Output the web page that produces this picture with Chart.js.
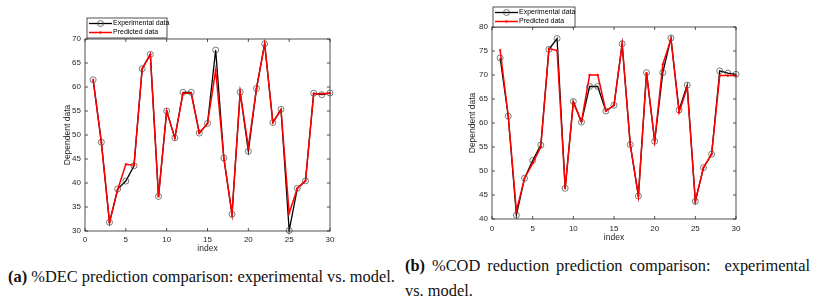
<!DOCTYPE html>
<html>
<head>
<meta charset="utf-8">
<script src="https://cdn.jsdelivr.net/npm/chart.js@4.4.1/dist/chart.umd.min.js"></script>
<style>
  body { margin: 0; background: #fff; width: 818px; height: 305px; position: relative; overflow: hidden; }
  .wrap { position: absolute; }
  #wrapA { left: 0; top: 0; width: 340px; height: 254px; }
  #wrapB { left: 440px; top: 0; width: 310px; height: 243px; }
  .cap { position: absolute; font-family: "Liberation Serif", "Times New Roman", serif; font-size: 16.4px;
         line-height: 18px; color: #111; white-space: nowrap; }
  .just { text-align: justify; text-align-last: justify; }
</style>
</head>
<body>
<div class="wrap" id="wrapA"><canvas id="decChart"></canvas></div>
<div class="wrap" id="wrapB"><canvas id="codChart"></canvas></div>

<div class="cap" style="left:8px; top:268px;"><b>(a)</b> %DEC prediction comparison: experimental vs. model.</div>
<div class="cap just" style="left:405px; top:257px; width:405px;"><b>(b)</b> %COD reduction prediction comparison:&nbsp; experimental</div>
<div class="cap" style="left:405px; top:282px;">vs. model.</div>

<script>
const index = [1, 2, 3, 4, 5, 6, 7, 8, 9, 10, 11, 12, 13, 14, 15,
               16, 17, 18, 19, 20, 21, 22, 23, 24, 25, 26, 27, 28, 29, 30];

// (a) %DEC
const decExperimental = [61.5, 48.5, 31.8, 38.75, 40.4, 43.6, 63.8, 66.8, 37.2, 55.0,
                         49.4, 58.9, 58.9, 50.4, 52.4, 67.7, 45.2, 33.5, 58.9, 46.6,
                         59.7, 69.0, 52.6, 55.35, 30.1, 38.9, 40.45, 58.7, 58.4, 58.75];
const decPredicted    = [61.5, 48.5, 31.8, 38.6, 43.9, 43.7, 63.8, 66.8, 37.2, 55.0,
                         49.4, 58.7, 58.7, 50.4, 52.4, 63.5, 45.2, 33.5, 58.9, 47.5,
                         59.7, 69.0, 52.6, 55.2, 33.7, 38.9, 40.45, 58.6, 58.6, 58.7];

// (b) %COD reduction
const codExperimental = [73.55, 61.4, 40.8, 48.5, 52.2, 55.4, 75.35, 77.6, 46.4, 64.5,
                         60.2, 67.6, 67.6, 62.5, 63.7, 76.5, 55.5, 44.8, 70.5, 56.2,
                         70.5, 77.7, 62.7, 67.9, 43.7, 50.7, 53.5, 70.85, 70.4, 70.15];
const codPredicted    = [75.2, 61.4, 41.7, 48.5, 51.6, 55.0, 75.5, 75.1, 46.4, 64.3,
                         60.3, 70.0, 70.0, 62.5, 63.7, 76.4, 55.5, 44.8, 70.4, 56.3,
                         72.2, 77.5, 62.2, 67.4, 43.7, 50.7, 53.5, 69.9, 69.9, 69.9];

const xTicks = [0, 5, 10, 15, 20, 25, 30];
const decTicks = [30, 35, 40, 45, 50, 55, 60, 65, 70];
const codTicks = [40, 45, 50, 55, 60, 65, 70, 75, 80];

const INK = '#262626';
const SANS = '"Liberation Sans", Arial, Helvetica, sans-serif';

// MATLAB style box with inward ticks on all four sides
const frameTicks = {
    id: 'frameTicks',
    afterDatasetsDraw(chart) {
        const { ctx, chartArea: a, scales: { x, y } } = chart;
        ctx.save();
        ctx.strokeStyle = INK;
        ctx.lineWidth = 0.8;
        ctx.strokeRect(a.left, a.top, a.right - a.left, a.bottom - a.top);
        ctx.beginPath();
        x.ticks.forEach(t => {
            const px = x.getPixelForValue(t.value);
            ctx.moveTo(px, a.bottom); ctx.lineTo(px, a.bottom - 3);
            ctx.moveTo(px, a.top); ctx.lineTo(px, a.top + 3);
        });
        y.ticks.forEach(t => {
            const py = y.getPixelForValue(t.value);
            ctx.moveTo(a.left, py); ctx.lineTo(a.left + 3, py);
            ctx.moveTo(a.right, py); ctx.lineTo(a.right - 3, py);
        });
        ctx.stroke();
        ctx.restore();
    }
};

// boxed legend sitting over the top-left corner of the axes
const boxLegend = {
    id: 'boxLegend',
    afterDraw(chart, args, opts) {
        const { ctx } = chart;
        const { left, top, width, height } = opts;
        ctx.save();
        ctx.fillStyle = '#fff';
        ctx.fillRect(left, top, width, height);
        ctx.strokeStyle = INK;
        ctx.lineWidth = 0.8;
        ctx.strokeRect(left, top, width, height);
        ctx.font = '7px ' + SANS;
        ctx.textBaseline = 'middle';
        const rowH = height / 2;
        chart.data.datasets.forEach((ds, i) => {
            const cy = top + rowH * (i + 0.5) + (i === 0 ? 0.5 : -0.5);
            ctx.strokeStyle = ds.borderColor;
            ctx.lineWidth = ds.borderWidth;
            ctx.beginPath();
            ctx.moveTo(left + 2, cy);
            ctx.lineTo(left + 25, cy);
            ctx.stroke();
            ctx.beginPath();
            ctx.arc(left + 13.5, cy, ds.pointRadius, 0, Math.PI * 2);
            ctx.lineWidth = ds.pointBorderWidth;
            ctx.strokeStyle = ds.pointBorderColor;
            if (ds.pointBackgroundColor !== 'transparent') {
                ctx.fillStyle = ds.pointBackgroundColor;
                ctx.fill();
            }
            ctx.stroke();
            ctx.fillStyle = '#000';
            ctx.fillText(ds.label, left + 26, cy);
        });
        ctx.restore();
    }
};

function makeChart(id, expData, predData, yMin, yMax, yTicks, layout, legendBox) {
    return new Chart(document.getElementById(id), {
        type: 'line',
        data: {
            datasets: [{
                label: 'Experimental data',
                data: index.map((x, i) => ({ x, y: expData[i] })),
                borderColor: '#000',
                borderWidth: 1.3,
                pointRadius: 3,
                pointBorderWidth: 0.7,
                pointBorderColor: '#444',
                pointBackgroundColor: 'transparent',
                tension: 0,
                clip: false,
                order: 1
            }, {
                label: 'Predicted data',
                data: index.map((x, i) => ({ x, y: predData[i] })),
                borderColor: '#ff0000',
                borderWidth: 1.5,
                pointRadius: 0.9,
                pointBorderWidth: 0.5,
                pointBorderColor: '#ff0000',
                pointBackgroundColor: '#ff0000',
                tension: 0,
                clip: false,
                order: 0
            }]
        },
        options: {
            responsive: true,
            maintainAspectRatio: false,
            animation: false,
            events: [],
            layout: { padding: layout.padding },
            scales: {
                x: {
                    type: 'linear',
                    min: 0, max: 30,
                    afterBuildTicks: s => { s.ticks = xTicks.map(v => ({ value: v })); },
                    afterFit: s => { s.height = layout.xHeight; },
                    grid: { display: false, drawTicks: false, tickLength: 0 },
                    border: { display: false },
                    ticks: { color: INK, font: { family: SANS, size: 8 }, padding: layout.xPad, maxRotation: 0, autoSkip: false },
                    title: { display: true, text: 'index', color: INK, font: { family: SANS, size: 8.5 }, padding: 0 }
                },
                y: {
                    min: yMin, max: yMax,
                    afterBuildTicks: s => { s.ticks = yTicks.map(v => ({ value: v })); },
                    afterFit: s => { s.width = layout.yWidth; },
                    grid: { display: false, drawTicks: false, tickLength: 0 },
                    border: { display: false },
                    ticks: { color: INK, font: { family: SANS, size: 8 }, padding: 4 },
                    title: { display: true, text: 'Dependent data', color: INK, font: { family: SANS, size: 8.5 }, padding: 0 }
                }
            },
            plugins: {
                legend: { display: false },
                tooltip: { enabled: false },
                boxLegend: legendBox
            }
        },
        plugins: [frameTicks, boxLegend]
    });
}

makeChart('decChart', decExperimental, decPredicted, 30, 70, decTicks,
    { padding: { left: 63, top: 39, right: 10, bottom: 0 }, yWidth: 22, xHeight: 23, xPad: 4 },
    { left: 87, top: 18, width: 80, height: 20 });

makeChart('codChart', codExperimental, codPredicted, 40, 80, codTicks,
    { padding: { left: 28, top: 27, right: 14, bottom: 0 }, yWidth: 24, xHeight: 24, xPad: 5 },
    { left: 53, top: 7, width: 82, height: 20 });
</script>
</body>
</html>
